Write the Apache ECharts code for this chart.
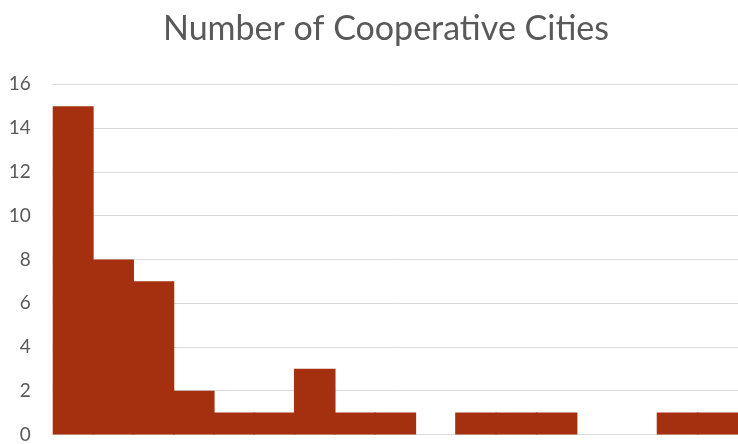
<!DOCTYPE html>
<html>
<head>
<meta charset="utf-8">
<script src="https://cdn.jsdelivr.net/npm/echarts@6/dist/echarts.min.js"></script>
<style>html,body{margin:0;padding:0;background:#fff}#c{width:738px;height:444px}</style>
</head>
<body>
<div id="c"></div>
<script>
const titleText = 'Number of Cooperative Cities';
const categories = ['1','2','3','4','5','6','7','8','9','10','11','12','13','14','15','16','17'];
const counts = [15, 8, 7, 2, 1, 1, 3, 1, 1, 0, 1, 1, 1, 0, 0, 1, 1];
const yTicks = [0, 2, 4, 6, 8, 10, 12, 14, 16];

const chart = echarts.init(document.getElementById('c'));
chart.setOption({
  animation: false,
  title: {
    text: titleText,
    left: 381, top: 7, textAlign: 'center',
    textStyle: { fontFamily: 'Lato', fontSize: 34, fontWeight: 'normal', color: '#595959' }
  },
  grid: { left: 52.7, right: -6.4, top: 84.3, bottom: 6.3, containLabel: false },
  xAxis: {
    type: 'category', data: categories,
    axisLine: { lineStyle: { color: '#d9d9d9', width: 1 } },
    axisTick: { show: false }, axisLabel: { show: false }
  },
  yAxis: {
    type: 'value', min: yTicks[0], max: yTicks[yTicks.length - 1], interval: 2,
    axisLine: { show: false }, axisTick: { show: false },
    splitLine: { lineStyle: { color: '#d9d9d9', width: 1 } },
    axisLabel: { color: '#595959', fontFamily: 'Lato', fontSize: 19, margin: 22 }
  },
  series: [{
    type: 'bar', data: counts, barWidth: 41.6,
    itemStyle: { color: '#A5300F' }
  }]
});
</script>
</body>
</html>
